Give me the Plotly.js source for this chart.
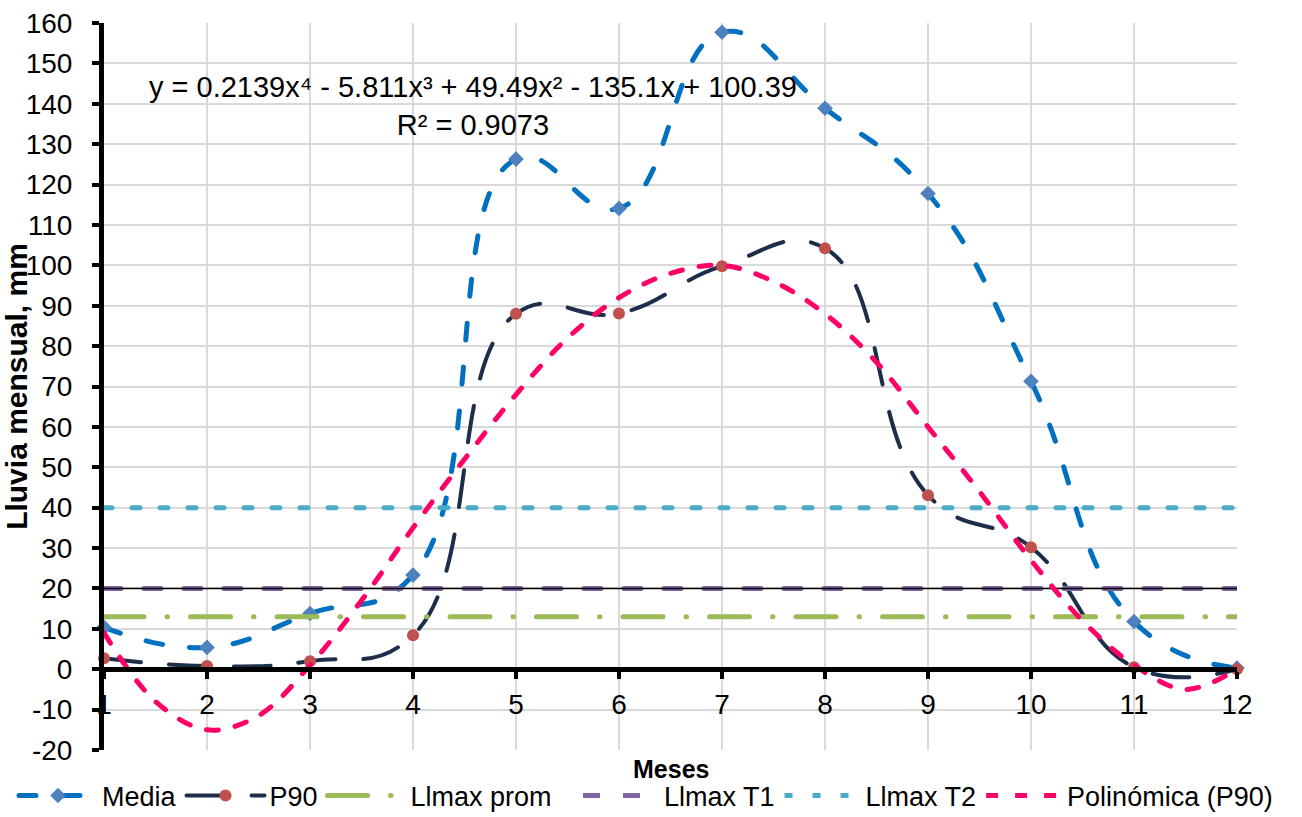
<!DOCTYPE html>
<html>
<head>
<meta charset="utf-8">
<script src="https://cdn.plot.ly/plotly-3.0.1.min.js"></script>
<style>
html,body{margin:0;padding:0;background:#fff;}
.scatterlayer .js-line, .legend .js-line { stroke-linecap: round; }
</style>
</head>
<body>
<div id="chart" style="width:1302px;height:817px;"></div>
<script>
// Months
const meses = [1,2,3,4,5,6,7,8,9,10,11,12];
// Series values (mm)
const media = [10.4, 5.4, 13.8, 23.3, 126.3, 114.1, 157.7, 138.9, 117.8, 71.3, 11.8, 0.3];
const p90   = [2.7, 0.8, 2.0, 8.4, 88.0, 88.1, 99.8, 104.2, 43.1, 30.2, 0.5, 0.0];
const llmaxProm = [13,13,13,13,13,13,13,13,13,13,13,13];
const llmaxT1   = [20,20,20,20,20,20,20,20,20,20,20,20];
const llmaxT2   = [40,40,40,40,40,40,40,40,40,40,40,40];
// Polynomial trendline (P90)
const polyX = [1,1.5,2,2.5,3,3.5,4,4.5,5,5.5,6,6.5,7,7.5,8,8.5,9,9.5,10,10.5,11,11.5,12];
const polyY = [9,-8,-15,-11.5,1,17,35,52,68,82,92,98,100,96,88,76,60,44,27,12,1,-5,0];
// Tick labels
const yTicks = [-20,-10,0,10,20,30,40,50,60,70,80,90,100,110,120,130,140,150,160];
const xTicks = meses;

const FONT = 'Liberation Sans, Arial, sans-serif';

const traces = [
  {x: meses, y: media, name: 'Media', type: 'scatter', mode: 'lines+markers', legend: 'legend',
   line: {color: '#0070C0', width: 5, dash: '17px,27px', shape: 'spline', smoothing: 1.3},
   marker: {symbol: 'diamond', size: 12, color: '#4F81BD'}, cliponaxis: false},
  {x: meses, y: p90, name: 'P90', type: 'scatter', mode: 'lines+markers', legend: 'legend',
   line: {color: '#1C2E4A', width: 4, dash: '37px,28px', shape: 'spline', smoothing: 1.3},
   marker: {symbol: 'circle', size: 12, color: '#C0504D'}, cliponaxis: false},
  {x: meses, y: llmaxProm, name: 'Llmax prom', type: 'scatter', mode: 'lines', legend: 'legend',
   line: {color: '#9BBB59', width: 5, dash: '40px,23px,0.5px,23px'}},
  {x: meses, y: llmaxT1, name: 'Llmax T1', type: 'scatter', mode: 'lines', legend: 'legend2',
   line: {color: '#8064A2', width: 5, dash: '17px,23px'}},
  {x: meses, y: llmaxT1, name: 'T1 ref', type: 'scatter', mode: 'lines', showlegend: false,
   line: {color: '#000000', width: 1.5}, hoverinfo: 'skip'},
  {x: meses, y: llmaxT2, name: 'Llmax T2', type: 'scatter', mode: 'lines', legend: 'legend2',
   line: {color: '#4BACC6', width: 5, dash: '8px,20px'}},
  {x: polyX, y: polyY, name: 'Polinómica (P90)', type: 'scatter', mode: 'lines', legend: 'legend2',
   line: {color: '#FF0066', width: 5, dash: '12px,17px', shape: 'spline', smoothing: 1},
   cliponaxis: false}
];

const legendCommon = {
  orientation: 'h', xanchor: 'left', yanchor: 'middle', y: -46/727,
  font: {family: FONT, size: 27, color: '#000000'},
  bgcolor: 'rgba(0,0,0,0)', tracegroupgap: 0
};

const layout = {
  width: 1302, height: 817,
  margin: {l: 104, r: 65, t: 23, b: 67, autoexpand: false},
  paper_bgcolor: '#ffffff', plot_bgcolor: '#ffffff',
  font: {family: FONT, color: '#000000', size: 28},
  showlegend: true,
  xaxis: {
    range: [1, 12], tickvals: xTicks, ticktext: xTicks.map(String),
    anchor: 'free', position: 20/180, automargin: false,
    showgrid: true, gridcolor: '#D9D9D9', gridwidth: 2,
    showline: true, linecolor: '#000000', linewidth: 5,
    ticks: 'outside', ticklen: 7, tickwidth: 4, tickcolor: '#000000',
    ticklabelstandoff: 1,
    tickfont: {family: FONT, size: 28, color: '#000000'},
    zeroline: false
  },
  yaxis: {
    range: [-20, 160], tickvals: yTicks, ticktext: yTicks.map(String), automargin: false,
    showgrid: true, gridcolor: '#D9D9D9', gridwidth: 2,
    showline: true, linecolor: '#000000', linewidth: 5,
    ticks: 'outside', ticklen: 7, tickwidth: 4, tickcolor: '#000000',
    ticklabelstandoff: 14,
    tickfont: {family: FONT, size: 28, color: '#000000'},
    zeroline: false,
    title: {text: '<b>Lluvia mensual, mm</b>', font: {family: FONT, size: 30, color: '#000000'}, standoff: 0}
  },
  legend: Object.assign({}, legendCommon, {x: (14 - 104) / 1133, itemwidth: 78}),
  legend2: Object.assign({}, legendCommon, {x: (578 - 104) / 1133, itemwidth: 76}),
  annotations: [{
    xref: 'x', yref: 'y', x: 4.58, y: 139.5, xanchor: 'center', yanchor: 'middle',
    align: 'center', showarrow: false,
    text: 'y = 0.2139x⁴ - 5.811x³ + 49.49x² - 135.1x + 100.39<br>R² = 0.9073',
    font: {family: FONT, size: 29, color: '#000000'}
  }, {
    xref: 'paper', yref: 'paper', x: 0.5, y: -19/727, xanchor: 'center', yanchor: 'middle',
    showarrow: false, text: '<b>Meses</b>',
    font: {family: FONT, size: 25, color: '#000000'}
  }]
};

Plotly.newPlot('chart', traces, layout, {displayModeBar: false, responsive: false});
</script>
</body>
</html>
